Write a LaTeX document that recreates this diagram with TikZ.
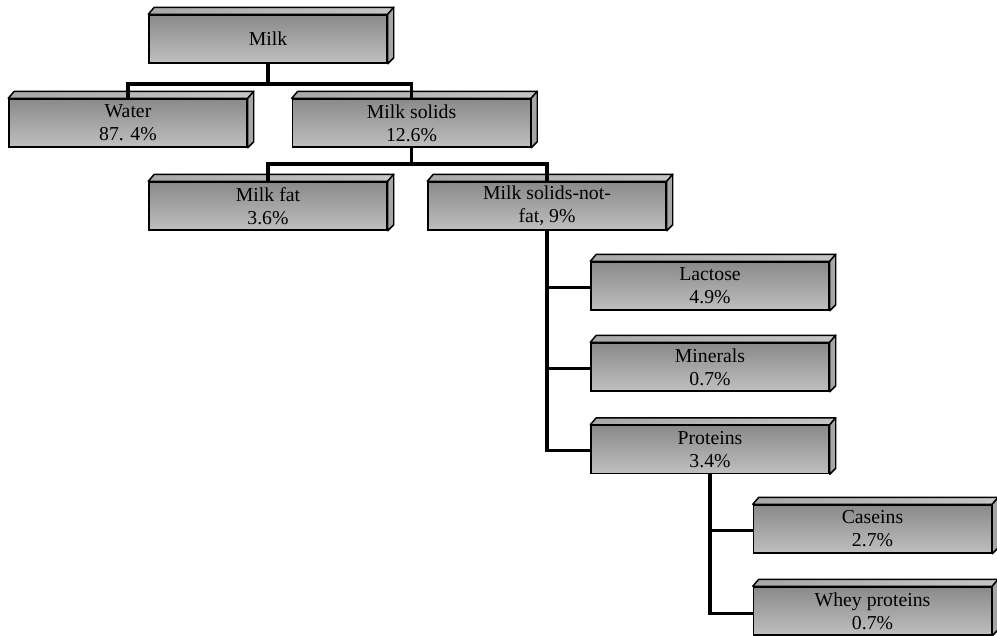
\documentclass[tikz,border=0pt]{standalone}
\usepackage{fontspec}
\setmainfont{Liberation Serif}
\definecolor{ftop}{HTML}{8A8A8A}
\definecolor{fbot}{HTML}{BFBFBF}
\definecolor{topface}{HTML}{C6C6C6}
\definecolor{sideface}{HTML}{A6A6A6}
\tikzset{
  cube/.style={draw=black, line width=1.1pt, top color=ftop, bottom color=fbot,
    minimum width=178.5pt, minimum height=36pt, inner sep=0pt, align=center,
    font=\fontsize{14.8}{17.3}\selectfont, text=black},
  face/.style={draw=black, line width=1.1pt, line join=round},
  conn/.style={draw=black, line width=2.3pt, line join=miter}
}
\newcommand\cubenode[3]{%
  \node[cube] (#1) at #2 {#3};
  \path[face, left color=topface!85!black, right color=topface]
    (#1.north west) -- ([shift={(6,-7)}]#1.north west) -- ([shift={(6,-7)}]#1.north east) -- (#1.north east) -- cycle;
  \path[face, fill=sideface]
    (#1.north east) -- ([shift={(6,-7)}]#1.north east) -- ([shift={(6,-6)}]#1.south east) -- (#1.south east) -- cycle;
}
\begin{document}
\begin{tikzpicture}[x=0.75pt,y=-0.75pt]
\useasboundingbox (0,0) rectangle (997,636);
\cubenode{milk}{(268,39)}{Milk}
\cubenode{water}{(128,123)}{Water\\87. 4\%}
\cubenode{ms}{(411.5,123)}{Milk solids\\12.6\%}
\cubenode{fat}{(268,206)}{Milk fat\\3.6\%}
\cubenode{msnf}{(547,206)}{Milk solids-not-\\fat, 9\%}
\cubenode{lac}{(710,286)}{Lactose\\4.9\%}
\cubenode{min}{(710,367)}{Minerals\\0.7\%}
\cubenode{prot}{(710,449.5)}{Proteins\\3.4\%}
\cubenode{cas}{(872.5,529)}{Caseins\\2.7\%}
\cubenode{whey}{(872.5,611)}{Whey proteins\\0.7\%}
\coordinate (j1) at (268,84);
\coordinate (j2) at (411.5,164);
\draw[conn] (milk.south) -- (j1);
\draw[conn] (water.north) |- (j1) -| (ms.north);
\draw[conn] (ms.south) -- (j2);
\draw[conn] (fat.north) |- (j2) -| (msnf.north);
\draw[conn] (msnf.south) |- ([yshift=-1pt]lac.west);
\draw[conn] (msnf.south) |- ([yshift=-1pt]min.west);
\draw[conn] (msnf.south) |- ([yshift=-1pt]prot.west);
\draw[conn] (prot.south) |- ([yshift=-1pt]cas.west);
\draw[conn] (prot.south) |- ([yshift=-2pt]whey.west);
\end{tikzpicture}
\end{document}
